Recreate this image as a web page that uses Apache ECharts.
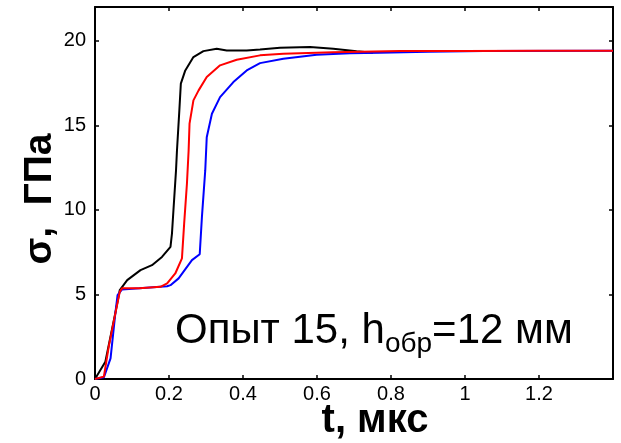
<!DOCTYPE html>
<html>
<head>
<meta charset="utf-8">
<script src="https://cdn.jsdelivr.net/npm/echarts@6/dist/echarts.min.js"></script>
<style>
  html, body { margin: 0; padding: 0; background: #fff; }
  #chart { width: 621px; height: 443px; }
</style>
</head>
<body>
<div id="chart"></div>
<script>
// Stress history sigma(t), three gauges, shot 15
const blackT = [0, 0.028, 0.055, 0.067, 0.087, 0.123, 0.154, 0.181, 0.204, 0.208, 0.212, 0.219, 0.2215, 0.228, 0.232, 0.244, 0.266, 0.293, 0.329, 0.356, 0.41, 0.446, 0.5, 0.581, 0.644, 0.707, 0.751];
const blackSigma = [0, 1.02, 3.9, 5.26, 5.85, 6.44, 6.73, 7.22, 7.82, 8.6, 9.98, 12.35, 13.5, 15.9, 17.47, 18.25, 19.04, 19.39, 19.53, 19.43, 19.43, 19.49, 19.59, 19.63, 19.53, 19.39, 19.3];

const redT = [0, 0.024, 0.037, 0.055, 0.067, 0.073, 0.12, 0.177, 0.195, 0.217, 0.235, 0.241, 0.2485, 0.253, 0.2555, 0.266, 0.28, 0.302, 0.338, 0.383, 0.446, 0.509, 0.643, 0.823, 1.0, 1.2, 1.4];
const redSigma = [0, 0.14, 1.9, 3.88, 5.16, 5.36, 5.37, 5.45, 5.65, 6.24, 7.13, 9.2, 11.56, 13.5, 15.1, 16.48, 17.07, 17.86, 18.55, 18.88, 19.14, 19.24, 19.33, 19.4, 19.4, 19.42, 19.42];

const blueT = [0, 0.024, 0.042, 0.055, 0.061, 0.073, 0.12, 0.195, 0.204, 0.226, 0.262, 0.283, 0.289, 0.298, 0.302, 0.316, 0.338, 0.374, 0.41, 0.446, 0.509, 0.599, 0.689, 0.77, 0.9, 1.05, 1.4];
const blueSigma = [0, 0.1, 1.22, 3.9, 4.96, 5.3, 5.36, 5.49, 5.55, 5.95, 7.03, 7.38, 9.59, 12.35, 14.3, 15.69, 16.67, 17.56, 18.25, 18.68, 18.94, 19.18, 19.27, 19.3, 19.36, 19.4, 19.42];

const xTicks = [0, 0.2, 0.4, 0.6, 0.8, 1, 1.2];
const yTicks = [0, 5, 10, 15, 20];

const xTitle = 't, мкс';
const yTitle = 'σ,  ГПа';
const noteMain = 'Опыт 15, h';
const noteSub = 'обр';
const noteTail = '=12 мм';

const FONT = '"Liberation Sans", Arial, sans-serif';

function pairs(ts, vs) { return ts.map((t, i) => [t, vs[i]]); }

const xLabel = v => {
  const r = Math.round(v * 10) / 10;
  return xTicks.includes(r) ? String(r) : '';
};
const yLabel = v => (yTicks.includes(v) ? String(v) : '');

const frame = { show: true, onZero: false, lineStyle: { color: '#000', width: 2 } };
const ticks = { show: true, inside: true, length: 4, lineStyle: { color: '#000', width: 1.5 } };

const chart = echarts.init(document.getElementById('chart'), null, { renderer: 'canvas' });
chart.setOption({
  animation: false,
  backgroundColor: '#fff',
  grid: { left: 95, top: 7, width: 518, height: 372, containLabel: false },
  xAxis: [
    {
      type: 'value', min: 0, max: 1.4, interval: 0.2, position: 'bottom',
      axisLine: frame, axisTick: ticks, splitLine: { show: false },
      axisLabel: { formatter: xLabel, color: '#000', fontFamily: FONT, fontSize: 20, margin: 5 }
    },
    {
      type: 'value', min: 0, max: 1.4, interval: 0.2, position: 'top',
      axisLine: frame, axisTick: ticks, splitLine: { show: false }, axisLabel: { show: false }
    }
  ],
  yAxis: [
    {
      type: 'value', min: 0, max: 22, interval: 5, position: 'left',
      axisLine: frame, axisTick: ticks, splitLine: { show: false },
      axisLabel: { formatter: yLabel, color: '#000', fontFamily: FONT, fontSize: 20, margin: 9 }
    },
    {
      type: 'value', min: 0, max: 22, interval: 5, position: 'right',
      axisLine: frame, axisTick: ticks, splitLine: { show: false }, axisLabel: { show: false }
    }
  ],
  series: [
    { type: 'line', name: 'black', data: pairs(blackT, blackSigma), showSymbol: false,
      lineStyle: { color: '#000', width: 2 }, z: 3 },
    { type: 'line', name: 'blue', data: pairs(blueT, blueSigma), showSymbol: false,
      lineStyle: { color: '#0000ff', width: 2 }, z: 4 },
    { type: 'line', name: 'red', data: pairs(redT, redSigma), showSymbol: false,
      lineStyle: { color: '#ff0000', width: 2 }, z: 5 }
  ],
  graphic: [
    {
      type: 'text', left: 175, top: 310, z: 10,
      style: {
        text: '{a|' + noteMain + '}{s|' + noteSub + '}{a|' + noteTail + '}',
        fill: '#000',
        rich: {
          a: { fontFamily: FONT, fontSize: 42, lineHeight: 48, verticalAlign: 'top', fill: '#000' },
          s: { fontFamily: FONT, fontSize: 28, lineHeight: 24, verticalAlign: 'bottom', fill: '#000' }
        }
      }
    },
    {
      type: 'text', x: 375, y: 421, z: 10,
      style: { text: xTitle, fill: '#000', font: 'bold 40px ' + FONT, align: 'center', verticalAlign: 'middle' }
    },
    {
      type: 'text', x: 40, y: 199, rotation: Math.PI / 2, z: 10,
      style: { text: yTitle, fill: '#000', font: 'bold 39px ' + FONT, align: 'center', verticalAlign: 'middle' }
    }
  ]
});
</script>
</body>
</html>
